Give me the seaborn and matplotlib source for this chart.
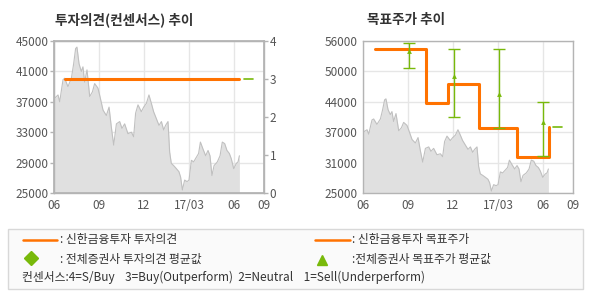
import numpy as np
import pandas as pd
import matplotlib
matplotlib.use("Agg")
import matplotlib.pyplot as plt
import seaborn as sns
from matplotlib.lines import Line2D
from matplotlib.patches import Rectangle

sns.set_theme(style="white")
plt.rcParams['font.family'] = ['Noto Sans CJK KR', 'DejaVu Sans']

# ---- data (x = months since 2016-06) ----
tick_pos = [0, 3, 6, 9, 12, 14]
tick_labels = ["06", "09", "12", "17/03", "06", "09"]

stock_month = [0.00, 0.27, 0.38, 0.60, 0.71, 0.93, 1.16, 1.31, 1.44, 1.53, 1.67, 1.82, 1.93, 2.04, 2.20,
               2.38, 2.56, 2.71, 2.93, 3.04, 3.27, 3.49, 3.67, 3.82, 3.98, 4.16, 4.38, 4.53, 4.71, 4.93,
               5.16, 5.31, 5.44, 5.60, 5.82, 5.98, 6.16, 6.33, 6.49, 6.64, 6.82, 7.00, 7.16, 7.31, 7.44,
               7.60, 7.71, 7.82, 7.98, 8.16, 8.33, 8.44, 8.56, 8.71, 8.87, 9.00, 9.16, 9.31, 9.49, 9.64,
               9.76, 9.93, 10.11, 10.27, 10.40, 10.53, 10.67, 10.89, 11.07, 11.22, 11.38, 11.53, 11.69,
               11.82, 11.98, 12.16, 12.27, 12.36]
stock_price = [37400, 37900, 37000, 39900, 40100, 39000, 40100, 42000, 44000, 44200, 42000, 41000, 41600,
               39600, 41200, 37700, 38300, 39400, 38800, 37900, 35900, 35200, 36300, 33700, 31300, 34100,
               34400, 33500, 34100, 32800, 33000, 32400, 35500, 36600, 35700, 36300, 36800, 37900, 36800,
               35700, 34800, 33900, 34400, 33300, 33900, 34400, 30400, 28900, 28600, 28200, 27800, 27100,
               25400, 26700, 26500, 26700, 29300, 29100, 29700, 30200, 31700, 30800, 29900, 30600, 29900,
               27300, 28600, 29100, 29900, 31700, 31500, 30600, 30200, 29500, 28200, 28900, 29100, 29900]

opinion_month = [0.71, 12.30]
opinion_value = [3, 3]
cons_opinion_month = [12.67, 13.27]
cons_opinion_value = [3, 3]

target_month = [0.78, 4.22, 5.67, 7.76, 10.29, 12.38]
target_price = [54400, 43400, 47300, 38300, 32400, 38400]

cons_month = [3.04, 6.04, 9.04, 12.0]
cons_mean = [53950, 48850, 45170, 39450]
cons_high = [55520, 54430, 54430, 43470]
cons_low = [50400, 40400, 38300, 32500]
cons_last_month = [12.7, 13.27]
cons_last_value = [38360, 38360]

left_yticks = [25000, 29000, 33000, 37000, 41000, 45000]
right_opinion_ticks = [0, 1, 2, 3, 4]
right_ylabels = ["25000", "31000", "37000", "44000", "50000", "56000"]

ORANGE = "#ff7200"
GREEN = "#78b90a"
GRID = "#e6e6e6"
SPINE = "#b4b4b4"
TXT = "#555555"

stock = pd.DataFrame({"m": stock_month, "p": stock_price})

fig = plt.figure(figsize=(5.9, 3.0), dpi=100)
fig.patch.set_facecolor("white")

def style(ax):
    for s in ax.spines.values():
        s.set_color(SPINE)
        s.set_linewidth(1.0)
    ax.grid(True, color=GRID, linewidth=1.0)
    ax.set_axisbelow(True)
    ax.tick_params(axis="both", colors=SPINE, labelcolor=TXT, labelsize=8.5, length=3, width=1, pad=1)
    ax.set_xlim(0, 14)
    ax.set_xticks(tick_pos)
    ax.set_xticklabels(tick_labels)
    ax.set_xlabel("")
    ax.set_ylabel("")

# ---- left chart ----
ax1 = fig.add_axes([54/590, 1 - 193/300, 210/590, 152/300])
ax1.fill_between(stock["m"], 25000, stock["p"], color="#e0e0e0", linewidth=0, zorder=1)
sns.lineplot(data=stock, x="m", y="p", ax=ax1, color="#c0c0c0", linewidth=0.8, zorder=2)
ax1.set_ylim(25000, 45000)
ax1.set_yticks(left_yticks)
style(ax1)
ax1b = ax1.twinx()
sns.lineplot(x=opinion_month, y=opinion_value, ax=ax1b, color=ORANGE, linewidth=2.2)
sns.lineplot(x=cons_opinion_month, y=cons_opinion_value, ax=ax1b, color=GREEN, linewidth=1.2)
ax1b.set_ylim(0, 4)
ax1b.set_yticks(right_opinion_ticks)
ax1b.set_xlim(0, 14)
for s in ax1b.spines.values():
    s.set_color(SPINE)
ax1b.tick_params(axis="y", colors=SPINE, labelcolor=TXT, labelsize=8.5, length=3, width=1, pad=1)
ax1b.set_ylabel("")
ax1b.grid(False)
fig.text(55/590, 1 - 20/300, "투자의견(컨센서스) 추이", fontsize=9.8, fontweight="bold", color="#333333", va="center")

# ---- right chart ----
ax2 = fig.add_axes([363/590, 1 - 193/300, 210/590, 152/300])
ax2.fill_between(stock["m"], 25000, stock["p"], color="#e0e0e0", linewidth=0, zorder=1)
sns.lineplot(data=stock, x="m", y="p", ax=ax2, color="#c0c0c0", linewidth=0.8, zorder=2)
sns.lineplot(x=target_month, y=target_price, ax=ax2, color=ORANGE, linewidth=2.2,
             drawstyle="steps-post", zorder=4)
ax2.errorbar(cons_month, cons_mean,
             yerr=[np.array(cons_mean) - np.array(cons_low), np.array(cons_high) - np.array(cons_mean)],
             fmt="none", ecolor=GREEN, elinewidth=1.0, capsize=4, capthick=1.0, zorder=5)
sns.scatterplot(x=cons_month, y=cons_mean, ax=ax2, marker="^", color=GREEN, s=12, linewidth=0, zorder=6)
sns.lineplot(x=cons_last_month, y=cons_last_value, ax=ax2, color=GREEN, linewidth=1.2)
ax2.set_ylim(25000, 56000)
ax2.set_yticks(np.linspace(25000, 56000, 6))
ax2.set_yticklabels(right_ylabels)
style(ax2)
fig.text(367/590, 1 - 20/300, "목표주가 추이", fontsize=9.8, fontweight="bold", color="#333333", va="center")

# ---- legend box ----
lg = fig.add_axes([0, 0, 1, 1], zorder=10)
lg.set_xlim(0, 590)
lg.set_ylim(300, 0)
lg.axis("off")
lg.patch.set_alpha(0)
lg.add_patch(Rectangle((8, 229), 575, 60, facecolor="#fafafa", edgecolor="#d8d8d8", linewidth=1))
lg.add_line(Line2D([23, 57], [240, 240], color=ORANGE, linewidth=1.8))
lg.add_line(Line2D([315, 350], [240, 240], color=ORANGE, linewidth=1.8))
lg.plot([31], [258], marker="D", color=GREEN, markersize=7, linestyle="none")
lg.plot([322], [260], marker="^", color=GREEN, markersize=7, linestyle="none")
kw = dict(fontsize=8.5, color="#333333", va="center")
lg.text(60, 240, ": 신한금융투자 투자의견", **kw)
lg.text(60, 259, ": 전체증권사 투자의견 평균값", **kw)
lg.text(352, 240, ": 신한금융투자 목표주가", **kw)
lg.text(352, 259, ":전체증권사 목표주가 평균값", **kw)
lg.text(22, 277, "컨센서스:4=S/Buy    3=Buy(Outperform)  2=Neutral    1=Sell(Underperform)", **kw)

fig.savefig("out.png", dpi=100, facecolor="white")
